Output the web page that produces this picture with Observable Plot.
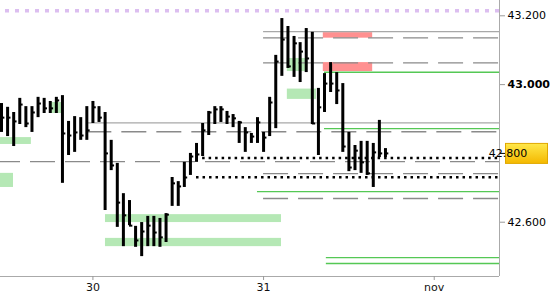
<!DOCTYPE html>
<html><head><meta charset="utf-8">
<script src="https://cdn.jsdelivr.net/npm/d3@7"></script>
<script src="https://cdn.jsdelivr.net/npm/@observablehq/plot@0.6"></script>
<style>body{margin:0;background:#fff}svg{display:block}</style>
</head><body><div id="chart"></div>
<script>
// ---- data ----
const highs  = [42.945,42.934,42.919,42.960,42.936,42.936,42.963,42.960,42.951,42.963,42.968,42.893,42.907,42.904,42.936,42.951,42.936,42.919,42.838,42.771,42.683,42.663,42.588,42.599,42.617,42.617,42.611,42.625,42.730,42.718,42.774,42.800,42.829,42.887,42.922,42.936,42.936,42.922,42.913,42.893,42.875,42.858,42.904,42.861,42.963,43.085,43.192,43.169,43.140,43.122,43.163,43.152,42.989,43.032,43.064,43.035,43.003,42.861,42.823,42.835,42.835,42.829,42.896,42.814];
const lows   = [42.861,42.849,42.820,42.884,42.875,42.861,42.904,42.916,42.916,42.916,42.713,42.794,42.803,42.838,42.838,42.887,42.890,42.634,42.750,42.585,42.529,42.590,42.527,42.500,42.529,42.529,42.527,42.541,42.646,42.646,42.701,42.736,42.774,42.791,42.852,42.884,42.890,42.884,42.875,42.829,42.803,42.829,42.829,42.803,42.849,42.872,43.024,43.047,43.021,43.006,43.035,42.884,42.794,42.919,42.977,42.942,42.803,42.747,42.750,42.742,42.736,42.701,42.788,42.788];
const closes = [42.904,42.904,42.893,42.942,42.887,42.919,42.945,42.931,42.931,42.954,42.858,42.852,42.861,42.852,42.867,42.934,42.904,42.800,42.765,42.657,42.620,42.590,42.547,42.573,42.590,42.570,42.556,42.622,42.713,42.704,42.730,42.791,42.797,42.867,42.919,42.928,42.928,42.907,42.902,42.890,42.861,42.849,42.890,42.846,42.948,43.067,43.131,43.053,43.120,43.096,43.076,42.887,42.934,43.003,43.003,42.983,42.820,42.759,42.808,42.774,42.742,42.803,42.800,42.800];

const xTicks = [15, 43, 71];
const xTickLabels = ["30", "31", "nov"];
const yTicks = [43.2, 43.0, 42.6];
const yBoldTicks = [43.0];
const lastPrice = 42.800;
const xDomain = [-0.164, 81.71];
const yDomain = [42.4422, 43.2445];

const purpleLevel = [{price: 43.215, from: -0.164, to: 81.71}];
const solidGrayLevels = [
  {price: 43.154, from: 43, to: 81.71},
  {price: 42.889, from: 14, to: 81.71}
];
const dashedGrayLevels = [
  {price: 43.136, from: 43, to: 81.71},
  {price: 43.063, from: 43, to: 81.71},
  {price: 42.863, from: 14, to: 81.71},
  {price: 42.741, from: 43, to: 81.71},
  {price: 42.669, from: 43, to: 81.71}
];
const dashedGrayFullLevels = [{price: 42.776, from: -0.164, to: 81.71}];
const greenLevels = [
  {price: 43.036, from: 53, to: 81.71},
  {price: 42.872, from: 53, to: 81.71},
  {price: 42.689, from: 42, to: 81.71},
  {price: 42.497, from: 53.3, to: 81.71},
  {price: 42.480, from: 53.3, to: 81.71}
];
const dottedLevels = [
  {price: 42.787, from: 33, to: 81.71},
  {price: 42.731, from: 32, to: 81.71}
];
const greenZones = [
  {from: -0.2, to: 4.9, top: 42.846, bottom: 42.826},
  {from: 8.2, to: 9.85, top: 42.948, bottom: 42.916},
  {from: -0.2, to: 1.97, top: 42.742, bottom: 42.701},
  {from: 17.06, to: 45.94, top: 42.622, bottom: 42.599},
  {from: 17.06, to: 45.94, top: 42.553, bottom: 42.529},
  {from: 46.9, to: 49.9, top: 43.076, bottom: 43.038},
  {from: 46.9, to: 51.7, top: 42.987, bottom: 42.957}
];
const redZones = [
  {from: 52.8, to: 60.9, top: 43.151, bottom: 43.135},
  {from: 52.8, to: 60.9, top: 43.064, bottom: 43.038}
];

const bars = highs.map((h, i) => ({i, high: h, low: lows[i], close: closes[i]}));

const lvl = {y: "price", x1: "from", x2: "to"};

const chart = Plot.plot({
  width: 550, height: 300,
  marginLeft: 0, marginRight: 51, marginTop: 0, marginBottom: 24,
  style: {fontFamily: "DejaVu Sans", fontSize: "11px", background: "#fff"},
  x: {type: "linear", domain: xDomain, axis: null},
  y: {domain: yDomain, axis: null},
  marks: [
    Plot.rect(greenZones, {x1: "from", x2: "to", y1: "top", y2: "bottom", fill: "#b5e8b5"}),
    Plot.rect(redZones, {x1: "from", x2: "to", y1: "top", y2: "bottom", fill: "#ff9090"}),
    Plot.ruleY(purpleLevel, {...lvl, stroke: "#dcbef0", strokeWidth: 3.5, strokeDasharray: "4,6", strokeDashoffset: 5}),
    Plot.ruleY(solidGrayLevels, {...lvl, stroke: "#a8a8a8", strokeWidth: 1.3}),
    Plot.ruleY(dashedGrayLevels, {...lvl, stroke: "#8a8a8a", strokeWidth: 1.3, strokeDasharray: "25,10"}),
    Plot.ruleY(dashedGrayFullLevels, {...lvl, stroke: "#8a8a8a", strokeWidth: 1.3, strokeDasharray: "25,10", strokeDashoffset: 5}),
    Plot.ruleY(greenLevels, {...lvl, stroke: "#55c855", strokeWidth: 1.3}),
    Plot.ruleY(dottedLevels, {...lvl, stroke: "#000", strokeWidth: 2.5, strokeDasharray: "2.5,4"}),
    Plot.ruleX(bars, {x: "i", y1: "low", y2: "high", stroke: "#000", strokeWidth: 3}),
    Plot.ruleY(bars, {y: "close", x1: "i", x2: d => d.i + 0.55, stroke: "#000", strokeWidth: 2}),
    Plot.ruleX([xDomain[1]], {stroke: "#aaa"}),
    Plot.ruleY([yDomain[0]], {stroke: "#aaa"}),
    Plot.axisX(xTicks, {anchor: "bottom", tickSize: 4, tickPadding: 3, stroke: "#999", fill: "#111",
      tickFormat: d => xTickLabels[xTicks.indexOf(d)]}),
    Plot.axisY(yTicks.filter(t => !yBoldTicks.includes(t)), {anchor: "right", tickSize: 5, tickPadding: 3, stroke: "#999", fill: "#000",
      tickFormat: d3.format(".3f")}),
    Plot.axisY(yBoldTicks, {anchor: "right", tickSize: 5, tickPadding: 3, stroke: "#999", fill: "#000", fontWeight: "bold",
      tickFormat: d3.format(".3f")}),
    Plot.axisY([lastPrice], {anchor: "right", tickSize: 5, tickPadding: 3, stroke: "#000", tickFormat: () => ""})
  ]
});

// price label box
const svg = d3.select(chart);
const yPx = chart.scale("y").apply(lastPrice);
const defs = svg.insert("defs", ":first-child");
const grad = defs.append("linearGradient").attr("id", "pbox").attr("x1", 0).attr("y1", 0).attr("x2", 0).attr("y2", 1);
grad.append("stop").attr("offset", "0%").attr("stop-color", "#ffe84a");
grad.append("stop").attr("offset", "100%").attr("stop-color", "#f4b800");
const g = svg.append("g");
g.append("rect").attr("x", 505.5).attr("y", yPx - 9.5).attr("width", 42).attr("height", 20)
  .attr("fill", "url(#pbox)").attr("stroke", "#e0a800");
g.append("text").attr("x", 508).attr("y", yPx + 0.5).attr("dy", "0.35em")
  .attr("font-family", "DejaVu Sans").attr("font-size", 11).attr("fill", "#000")
  .text(d3.format(".3f")(lastPrice));

document.getElementById("chart").appendChild(chart);
</script>
</body></html>
